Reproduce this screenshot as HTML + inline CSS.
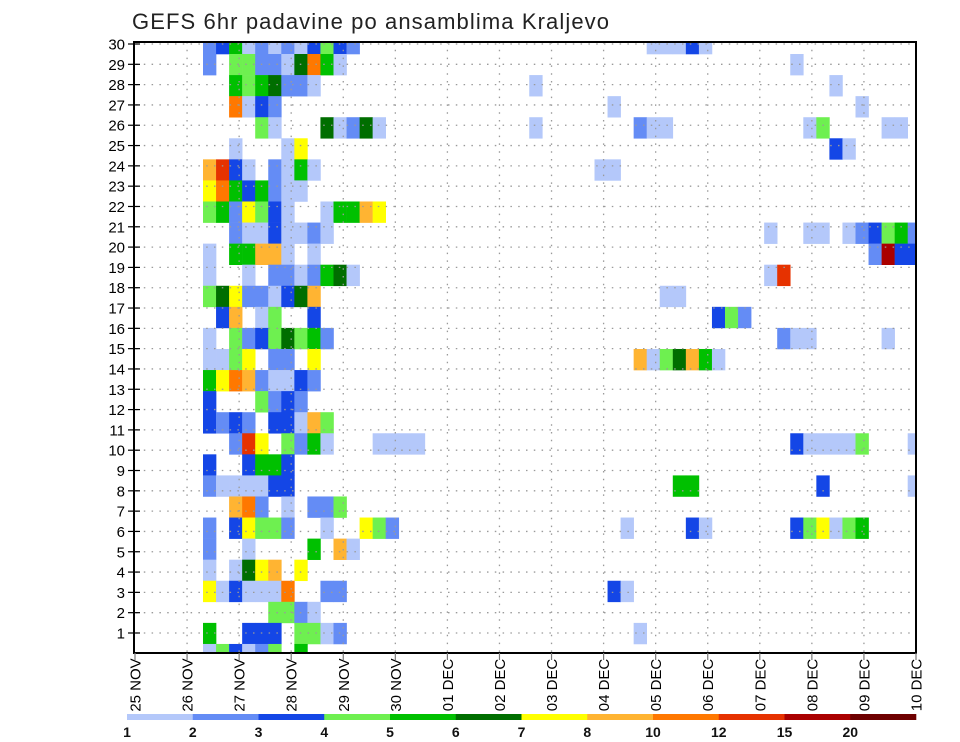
<!DOCTYPE html>
<html><head><meta charset="utf-8"><title>GEFS 6hr padavine</title>
<style>
html,body{margin:0;padding:0;background:#fff;}
svg{display:block;font-family:"Liberation Sans",sans-serif;}
</style></head>
<body>
<svg id="chart" width="960" height="742" viewBox="0 0 960 742" xmlns="http://www.w3.org/2000/svg">
<defs><clipPath id="plotclip"><rect x="134" y="42" width="782" height="611"/></clipPath></defs>
<text x="132" y="29" font-size="22" fill="#222" letter-spacing="1.1">GEFS 6hr padavine po ansamblima Kraljevo</text>
<g id="cells" clip-path="url(#plotclip)"></g>
<g id="grid"></g>
<rect x="134" y="42" width="782" height="611" fill="none" stroke="#000" stroke-width="2"/>
<g id="yaxis"></g>
<g id="xaxis"></g>
<g id="legend"></g>
</svg>
<script>
// ---- data ----
const xTickLabels = ["25 NOV","26 NOV","27 NOV","28 NOV","29 NOV","30 NOV","01 DEC","02 DEC","03 DEC","04 DEC","05 DEC","06 DEC","07 DEC","08 DEC","09 DEC","10 DEC"];
const yTickLabels = [1,2,3,4,5,6,7,8,9,10,11,12,13,14,15,16,17,18,19,20,21,22,23,24,25,26,27,28,29,30];
const legendThresholds = [1,2,3,4,5,6,7,8,10,12,15,20];
const legendColors = ["#b4c8fa","#648cf5","#1446e6","#6ef050","#00c000","#006e00","#ffff00","#ffb432","#ff7800","#e63200","#aa0000","#6e0000"];
// codes a..l -> representative precipitation value (mm)
const levelCodes = "abcdefghijkl";
const levelValues = [1.5,2.5,3.5,4.5,5.5,6.5,7.5,9,11,13.5,17.5,25];
// rows from top of plot to bottom: "startCol:codes" runs ('.' = no rain)
const memberRows = [
 "0:bceababacdcb 34:aaaca",
 "0:b.ddbbafiea 45:a",
 "0:..edefbba 25:a 48:a",
 "0:..iacb 31:a 50:a",
 "0:....da...fabfa 25:a 33:baa 46:ad 52:aa",
 "0:..a...ag 48:ca",
 "0:hjca.baea 30:aa",
 "0:giecebaa",
 "0:debgdca..aeehg",
 "0:..baacaaba 43:a 46:aa 49:abcdeb",
 "0:a.eehha.a 51:bkcc",
 "0:a..a.bbabefa 43:aj",
 "0:dfgbbacfh 35:aa",
 "0:.ch.ad..c 39:cdb",
 "0:a.dbcdfdeb 44:baa 52:a",
 "0:aadg.bb.g 33:hadfhea",
 "0:egihbaacb",
 "0:c...dbcb",
 "0:cbcb.ccahd",
 "0:..bjg.dbea 13:aaaa 45:caaaad 54:a",
 "0:c..ceec",
 "0:baaaacc 36:ee 47:c 54:a",
 "0:..hib.a.bbd",
 "0:b.cgddb..a..gdb 32:a 37:ca 45:cdgade",
 "0:b..a....e.ha",
 "0:a.afgh.g",
 "0:gacaaai..bb 31:ca",
 "0:.....ddba",
 "0:e..ccc.ddab 33:a",
 "0:adcabd.e"
];
// ---- axes ----
const NS="http://www.w3.org/2000/svg";
const plotL=134, plotR=916, plotT=42, plotB=653;
const dayX0=135, dayW=(916-135)/15;
function xDay(d){return dayX0+d*dayW;}
const colX0=203, colW=13.05;
function xCol(c){return colX0+c*colW;}
const rowY0=54, rowH=21.07;
function yRow(m){return rowY0+(m-1)*rowH;}
function yLabel(n){return 44+(30-n)*20.31;}
function colorFor(v){let idx=0;for(let i=0;i<legendThresholds.length;i++){if(v>=legendThresholds[i])idx=i;}return legendColors[idx];}
function mk(tag,attrs,parent){const e=document.createElementNS(NS,tag);for(const k in attrs)e.setAttribute(k,attrs[k]);parent.appendChild(e);return e;}

const cellsG=document.getElementById('cells');
memberRows.forEach((row,m)=>{
  row.split(' ').forEach(seg=>{
    const [s,codes]=seg.split(':');const start=parseInt(s,10);
    for(let k=0;k<codes.length;k++){
      const ch=codes[k]; if(ch==='.')continue;
      const v=levelValues[levelCodes.indexOf(ch)];
      const r=mk('rect',{x:xCol(start+k).toFixed(2),y:yRow(m).toFixed(2),width:colW+0.3,height:rowH+0.3,fill:colorFor(v)},cellsG);
      
      
    }
  });
});

const gridG=document.getElementById('grid');
yTickLabels.forEach(n=>{
  const y=yLabel(n);
  const l=mk('line',{x1:plotL+2,x2:plotR,y1:y,y2:y,stroke:'#9a9a9a','stroke-width':1.3,'stroke-dasharray':'1.5 6.3'},gridG);
  
  
});
xTickLabels.forEach((t,d)=>{
  if(d===0||d===15)return;
  const x=xDay(d);
  const l=mk('line',{x1:x,x2:x,y1:plotT,y2:plotB,stroke:'#9a9a9a','stroke-width':1.3,'stroke-dasharray':'1.5 6.3'},gridG);
  
  
});

const yG=document.getElementById('yaxis');
yTickLabels.forEach(n=>{
  const y=yLabel(n);
  const tk=mk('line',{x1:128,x2:140,y1:y,y2:y,stroke:'#000','stroke-width':1.2},yG);
  
  
  const t=mk('text',{x:125,y:y+5.5,'font-size':15,'text-anchor':'end',fill:'#000'},yG);
  t.textContent=n;
  
  
});

const xG=document.getElementById('xaxis');
xTickLabels.forEach((lab,d)=>{
  const x=xDay(d);
  const tk=mk('line',{x1:x,x2:x,y1:plotB,y2:plotB+7,stroke:'#777','stroke-width':1.2},xG);
  
  
  const t=mk('text',{x:0,y:0,'font-size':15,'text-anchor':'middle',fill:'#000',transform:'translate('+(x+5.5)+',685) rotate(-90)'},xG);
  t.textContent=lab;
  
  
});

const lg=document.getElementById('legend');
const lgX0=127, lgW=(916-127)/legendColors.length;
legendColors.forEach((c,i)=>{
  const r=mk('rect',{x:lgX0+i*lgW,y:714,width:lgW+0.3,height:6,fill:c},lg);
  
  
});
legendThresholds.forEach((v,i)=>{
  const t=mk('text',{x:lgX0+i*lgW,y:737,'font-size':14,'font-weight':'bold','text-anchor':'middle',fill:'#111'},lg);
  t.textContent=v;
  
  
});
</script>
</body></html>
